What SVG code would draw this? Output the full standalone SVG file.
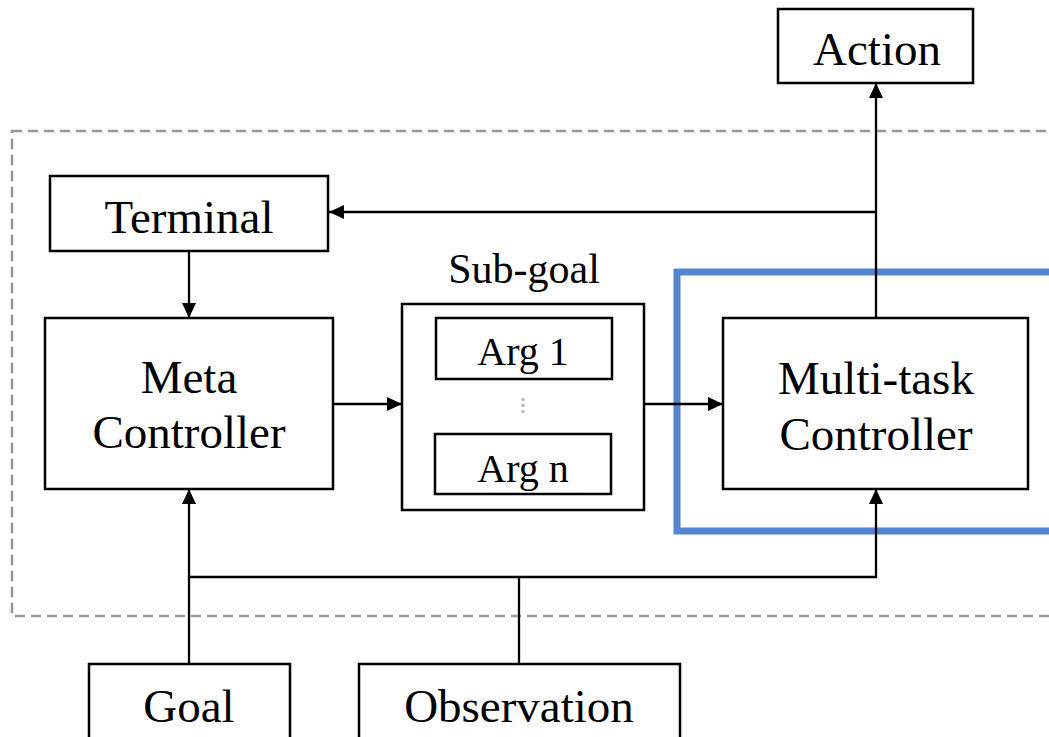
<svg xmlns="http://www.w3.org/2000/svg" width="1049" height="737" viewBox="0 0 1049 737">
<style>
.box{fill:#fff;stroke:#000;stroke-width:2.5}
.t{font-family:'Liberation Serif',serif;font-size:47px;fill:#000;text-anchor:middle}
.s{font-size:40px}
.c{fill:none;stroke:#000;stroke-width:2.3}
</style>
<defs>
<marker id="ah" viewBox="0 0 15 14" refX="15" refY="7" markerWidth="15" markerHeight="14" markerUnits="userSpaceOnUse" orient="auto">
<path d="M0,0 L15,7 L0,14 Z" fill="#000"/>
</marker>
</defs>
<rect width="1049" height="737" fill="#fff"/>
<rect id="container" x="12" y="131" width="1060" height="485" fill="none" stroke="#999" stroke-width="2.5" stroke-dasharray="10,6"/>
<rect id="highlight" x="677" y="272" width="400" height="259" fill="none" stroke="#5585d0" stroke-width="7"/>
<g id="connectors">
<path class="c" d="M876,318 V83" marker-end="url(#ah)"/>
<path class="c" d="M876,212 H329" marker-end="url(#ah)"/>
<path class="c" d="M189,251 V318" marker-end="url(#ah)"/>
<path class="c" d="M333,404 H402" marker-end="url(#ah)"/>
<path class="c" d="M644,404 H723" marker-end="url(#ah)"/>
<path class="c" d="M189,664 V489" marker-end="url(#ah)"/>
<path class="c" d="M189,577 H876 V489" marker-end="url(#ah)"/>
<path class="c" d="M519,664 V577"/>
</g>
<g id="action"><rect class="box" x="778" y="9" width="195" height="74"/><text class="t" x="877" y="65">Action</text></g>
<g id="terminal"><rect class="box" x="50" y="176" width="278" height="75"/><text class="t" x="189" y="233">Terminal</text></g>
<g id="meta"><rect class="box" x="45" y="318" width="288" height="171"/><text class="t" x="189" y="393">Meta</text><text class="t" x="189" y="448">Controller</text></g>
<g id="subgoal"><text class="t" x="524" y="283" style="font-size:42px">Sub-goal</text><rect class="box" x="402" y="304" width="242" height="206"/>
<g id="arg1"><rect class="box" x="436" y="318" width="176" height="61"/><text class="t s" x="523" y="365">Arg 1</text></g>
<line x1="523" y1="398" x2="523" y2="416" stroke="#bbb" stroke-width="3" stroke-dasharray="3,3"/>
<g id="argn"><rect class="box" x="435" y="434" width="176" height="60"/><text class="t s" x="523" y="482">Arg n</text></g></g>
<g id="mtc"><rect class="box" x="723" y="318" width="305" height="171"/><text class="t" x="876" y="394">Multi-task</text><text class="t" x="876" y="450">Controller</text></g>
<g id="goal"><rect class="box" x="89" y="664" width="201" height="80"/><text class="t" x="189" y="722">Goal</text></g>
<g id="observation"><rect class="box" x="359" y="664" width="321" height="80"/><text class="t" x="519" y="722">Observation</text></g>
</svg>
